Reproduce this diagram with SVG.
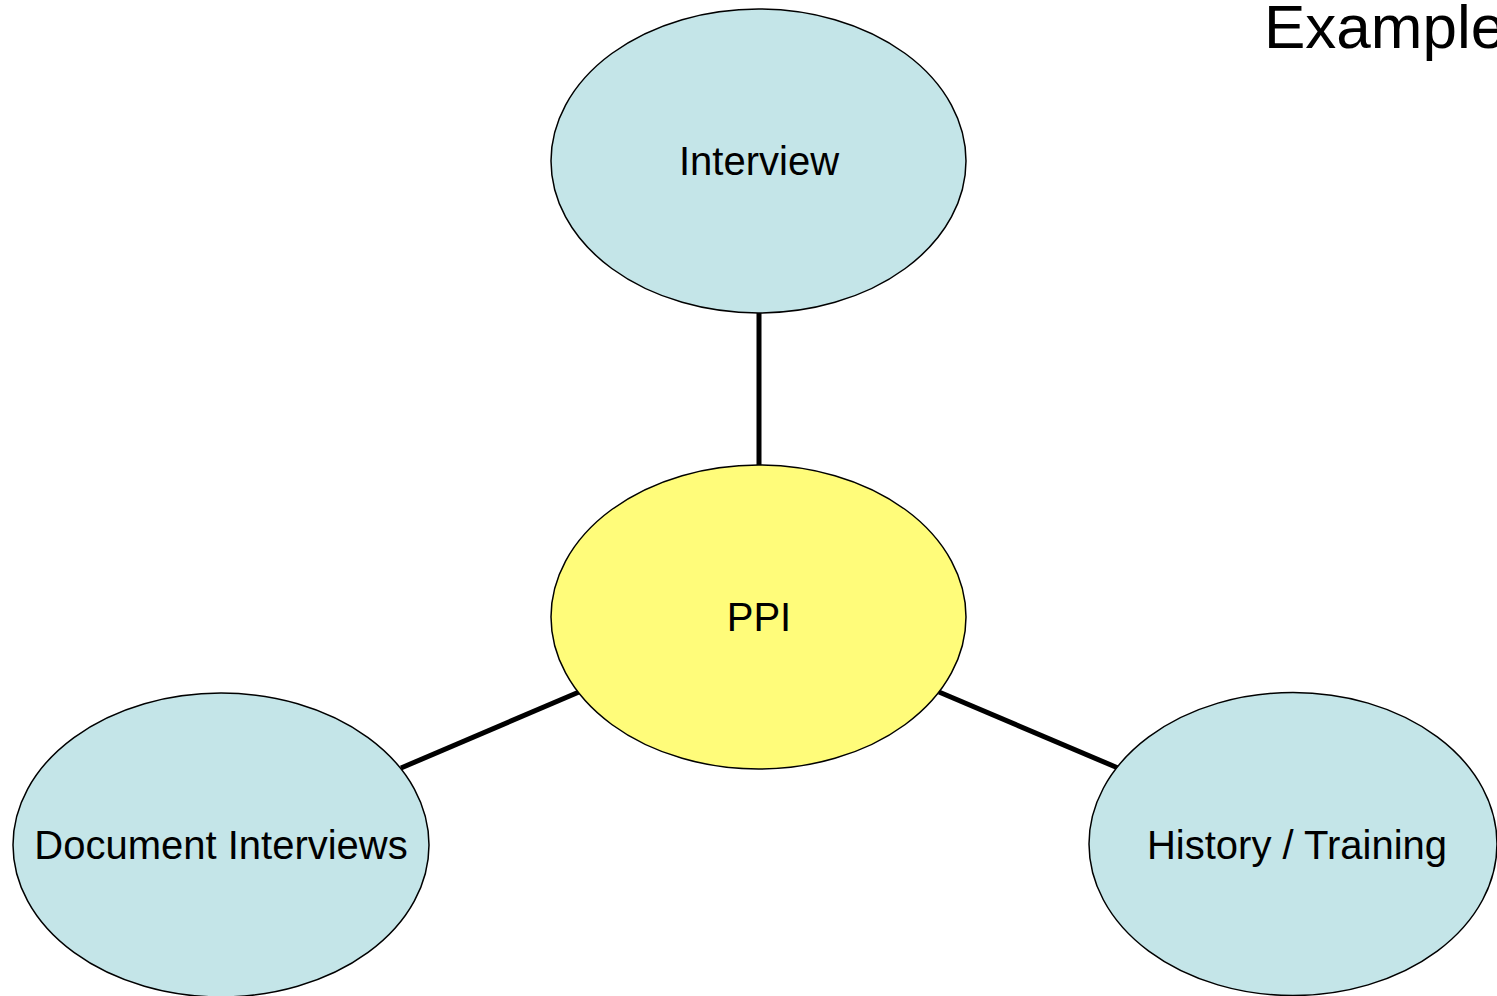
<svg xmlns="http://www.w3.org/2000/svg" width="1497" height="996" viewBox="0 0 1497 996">
<style>
.n{stroke:#000;stroke-width:1.5}
.b{fill:#C4E5E8}
.y{fill:#FFFC7A}
.t{font-family:"Liberation Sans",Arial,sans-serif;font-size:40px;fill:#000;text-anchor:middle}
.c{stroke:#000;stroke-width:5;fill:none}
</style>
<rect width="1497" height="996" fill="#fff"/>
<text x="1264" y="48" font-family="Liberation Sans, Arial, sans-serif" font-size="62" fill="#000">Example</text>
<g id="connectors">
<line class="c" x1="759" y1="313" x2="759" y2="465"/>
<line class="c" x1="401" y1="768" x2="579" y2="692"/>
<line class="c" x1="939" y1="692" x2="1118" y2="768"/>
</g>
<g id="interview">
<ellipse class="n b" cx="758.5" cy="161" rx="207.5" ry="152"/>
<text class="t" x="759" y="175">Interview</text>
</g>
<g id="ppi">
<ellipse class="n y" cx="758.5" cy="617" rx="207.5" ry="152"/>
<text class="t" x="759" y="631">PPI</text>
</g>
<g id="document-interviews">
<ellipse class="n b" cx="221" cy="845" rx="208" ry="152"/>
<text class="t" x="221" y="859">Document Interviews</text>
</g>
<g id="history-training">
<ellipse class="n b" cx="1293" cy="844" rx="204" ry="151.5"/>
<text class="t" x="1297" y="859">History / Training</text>
</g>
</svg>
